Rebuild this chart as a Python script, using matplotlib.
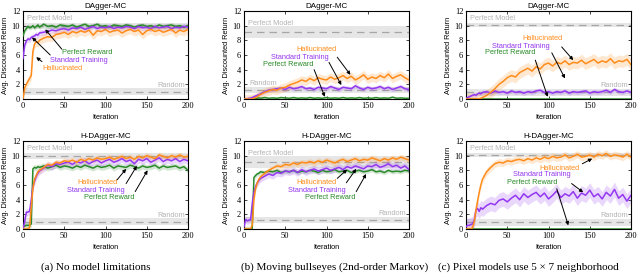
import matplotlib
matplotlib.use("Agg")
import matplotlib.pyplot as plt

# iterations sampled (finer at the start where the curves jump)
ITERS = [0, 2, 4, 6, 8, 10, 12, 14, 16, 18, 20,
         25, 30, 35, 40, 45, 50, 55, 60, 65, 70, 75, 80, 85, 90, 95, 100,
         105, 110, 115, 120, 125, 130, 135, 140, 145, 150, 155, 160, 165,
         170, 175, 180, 185, 190, 195, 200]

# ---- DAgger-MC, (a) no model limitations
dm_a_pr = [8.6, 9.3, 9.6, 9.9, 9.7, 9.8, 10.0, 9.7, 9.9, 10.1, 9.8,
           10.2, 9.9, 10.0, 9.8, 10.1, 10.0, 9.9, 10.1, 9.8, 10.0, 10.2, 9.9,
           10.0, 10.2, 9.9, 10.0, 9.8, 10.1, 10.0, 9.9, 10.1, 10.0, 9.8, 10.0,
           10.1, 9.9, 10.0, 9.8, 10.1, 9.9, 10.0, 10.1, 9.9, 10.0, 9.8, 10.0]
dm_a_st = [5.5, 7.3, 7.9, 8.2, 8.1, 8.4, 8.5, 8.6, 8.8, 8.7, 9.0,
           9.1, 9.2, 9.4, 9.3, 9.5, 9.6, 9.4, 9.7, 9.6, 9.8, 9.5, 9.7,
           9.9, 9.6, 9.8, 9.7, 9.9, 9.6, 9.8, 9.7, 9.9, 9.8, 9.6, 9.9,
           9.7, 9.8, 9.6, 9.9, 9.7, 9.8, 9.9, 9.6, 9.8, 9.7, 9.9, 9.8]
dm_a_hal = [0.0, 1.5, 2.0, 2.4, 2.8, 3.2, 6.5, 7.5, 7.8, 7.7, 8.0,
            8.3, 8.5, 8.4, 8.8, 8.9, 9.1, 8.8, 9.2, 9.0, 9.3, 9.1, 9.4,
            8.7, 9.3, 9.2, 9.5, 9.1, 9.3, 9.4, 9.0, 9.3, 9.5, 9.2, 9.4,
            8.8, 9.3, 9.5, 9.2, 9.4, 9.1, 9.3, 9.5, 9.0, 9.4, 9.2, 9.5]

# ---- DAgger-MC, (b) moving bullseyes
dm_b_pr = [0.0, 0.0, 0.0, 0.0, 0.05, 0.05, 0.1, 0.1, 0.1, 0.15, 0.1,
           0.2, 0.1, 0.15, 0.1, 0.2, 0.15, 0.1, 0.2, 0.1, 0.15, 0.1, 0.2,
           0.1, 0.15, 0.1, 0.2, 0.1, 0.15, 0.1, 0.2, 0.1, 0.15, 0.1, 0.2,
           0.1, 0.15, 0.1, 0.2, 0.1, 0.15, 0.1, 0.25, 0.1, 0.15, 0.1, 0.1]
dm_b_st = [0.0, 0.0, 0.0, 0.1, 0.1, 0.2, 0.3, 0.4, 0.5, 0.6, 0.7,
           1.0, 1.2, 1.3, 1.4, 1.5, 1.3, 1.6, 1.4, 1.5, 1.7, 1.4, 1.5,
           1.3, 1.6, 1.5, 1.4, 1.7, 1.5, 1.3, 1.6, 1.5, 1.4, 1.8, 1.5,
           1.3, 1.6, 1.4, 1.5, 1.7, 1.4, 1.6, 1.3, 1.5, 1.7, 1.4, 1.3]
dm_b_hal = [0.0, 0.0, 0.0, 0.0, 0.0, 0.05, 0.1, 0.2, 0.3, 0.5, 0.6,
            0.9, 1.1, 1.3, 1.2, 1.5, 1.6, 1.9, 2.1, 2.3, 2.6, 2.4, 2.8,
            2.5, 2.9, 2.7, 2.6, 3.0, 2.7, 2.9, 3.2, 2.8, 3.1, 2.6, 2.9,
            3.3, 2.7, 3.0, 2.8, 3.2, 2.9, 3.4, 2.8, 3.1, 3.3, 2.9, 2.6]

# ---- DAgger-MC, (c) pixel models
dm_c_pr = [0.0, 0.0, 0.0, 0.0, 0.0, 0.0, 0.0, 0.0, 0.0, 0.0, 0.0,
           0.0, 0.0, 0.0, 0.0, 0.0, 0.0, 0.0, 0.0, 0.0, 0.0, 0.0, 0.0,
           0.0, 0.0, 0.0, 0.0, 0.0, 0.0, 0.0, 0.0, 0.0, 0.0, 0.0, 0.0,
           0.0, 0.0, 0.0, 0.0, 0.0, 0.0, 0.0, 0.0, 0.0, 0.0, 0.0, 0.0]
dm_c_st = [0.1, 0.2, 0.3, 0.4, 0.5, 0.6, 0.5, 0.7, 0.8, 0.7, 0.9,
           1.0, 0.8, 1.1, 0.9, 1.0, 0.8, 1.1, 0.9, 1.0, 0.8, 1.0, 0.9,
           1.1, 1.2, 0.9, 1.0, 0.8, 1.0, 0.9, 1.1, 0.8, 1.0, 0.9, 1.0,
           1.1, 0.8, 1.0, 0.9, 1.0, 1.2, 0.9, 1.3, 1.0, 0.9, 1.1, 0.9]
dm_c_hal = [0.0, 0.0, 0.0, 0.0, 0.0, 0.0, 0.0, 0.0, 0.05, 0.1, 0.2,
            0.5, 0.9, 1.4, 2.0, 2.4, 2.9, 3.2, 3.0, 3.6, 3.9, 4.2, 3.8,
            4.4, 4.1, 4.7, 4.9, 4.5, 5.0, 4.8, 5.2, 4.7, 5.0, 4.9, 5.3,
            4.8, 5.1, 5.4, 4.9, 5.2, 5.0, 5.5, 4.9, 5.2, 5.1, 5.4, 4.7]

# ---- H-DAgger-MC, (a)
hd_a_pr = [0.3, 0.4, 0.5, 0.5, 0.5, 0.7, 8.2, 8.4, 8.3, 8.5, 8.4,
           8.6, 8.3, 8.5, 8.7, 8.4, 8.6, 8.5, 8.3, 8.6, 8.4, 8.7, 8.5,
           8.3, 8.6, 8.4, 8.5, 8.7, 8.3, 8.6, 8.5, 8.4, 8.7, 8.5, 8.3,
           8.6, 8.4, 8.5, 8.7, 8.3, 8.6, 8.4, 8.5, 8.6, 8.3, 8.5, 8.0]
hd_a_st = [0.0, 1.0, 2.3, 2.3, 2.4, 4.0, 5.8, 6.5, 7.2, 7.6, 7.9,
           8.3, 8.7, 8.5, 8.9, 8.8, 9.0, 9.1, 8.8, 9.2, 9.0, 9.3, 8.9,
           9.2, 9.4, 9.0, 9.3, 9.5, 9.1, 9.3, 9.6, 9.2, 9.4, 8.9, 9.5,
           9.3, 9.6, 9.1, 9.4, 9.7, 9.2, 9.5, 9.3, 9.6, 9.2, 9.5, 9.3]
hd_a_hal = [0.0, 0.0, 0.0, 0.0, 0.2, 3.0, 5.5, 6.8, 7.3, 7.8, 8.0,
            8.4, 8.8, 8.7, 9.1, 9.0, 9.3, 9.2, 9.4, 9.1, 9.5, 9.3, 9.6,
            9.4, 9.7, 9.5, 9.6, 9.8, 9.5, 9.7, 9.9, 9.6, 9.8, 9.5, 9.9,
            9.7, 10.0, 9.8, 9.6, 10.1, 9.9, 9.7, 10.0, 9.8, 10.1, 9.8, 9.9]

# ---- H-DAgger-MC, (b)
hd_b_pr = [0.0, 0.0, 0.0, 0.0, 0.0, 0.1, 7.0, 7.3, 7.5, 7.6, 7.8,
           7.7, 7.9, 7.8, 8.0, 7.7, 7.9, 7.8, 8.0, 7.7, 7.9, 7.8, 8.0,
           7.9, 7.7, 8.0, 7.8, 7.9, 8.1, 7.8, 7.9, 8.0, 7.7, 7.9, 8.0,
           7.8, 7.9, 8.1, 7.8, 7.9, 7.7, 8.0, 7.8, 7.9, 7.8, 8.0, 7.9]
hd_b_st = [0.3, 1.3, 1.1, 1.2, 1.3, 3.5, 5.0, 5.8, 6.3, 6.6, 6.9,
           7.2, 7.5, 7.3, 7.7, 7.6, 7.9, 7.8, 8.0, 7.7, 8.1, 7.8, 8.0,
           8.2, 7.9, 8.1, 8.3, 8.0, 8.2, 8.4, 8.1, 8.5, 8.3, 8.6, 8.4,
           8.2, 8.6, 8.5, 8.8, 8.4, 8.6, 8.9, 8.5, 8.7, 8.3, 8.6, 8.1]
hd_b_hal = [0.0, 0.0, 0.0, 0.0, 0.0, 0.5, 4.0, 5.5, 6.3, 6.8, 7.1,
            7.6, 8.0, 8.3, 8.6, 8.5, 8.8, 8.7, 9.0, 8.8, 9.1, 9.0, 9.2,
            9.0, 9.3, 9.1, 9.4, 9.2, 9.0, 9.3, 9.5, 9.2, 9.4, 9.6, 9.3,
            9.5, 9.4, 9.7, 9.5, 9.3, 9.6, 9.4, 9.7, 9.5, 9.8, 9.6, 9.4]

# ---- H-DAgger-MC, (c)
hd_c_pr = [0.0, 0.0, 0.0, 0.0, 0.0, 0.0, 0.0, 0.0, 0.0, 0.0, 0.0,
           0.0, 0.0, 0.0, 0.0, 0.0, 0.0, 0.0, 0.0, 0.0, 0.0, 0.0, 0.0,
           0.0, 0.0, 0.0, 0.0, 0.0, 0.0, 0.0, 0.0, 0.0, 0.0, 0.0, 0.0,
           0.0, 0.0, 0.0, 0.0, 0.0, 0.0, 0.0, 0.0, 0.0, 0.0, 0.0, 0.0]
hd_c_st = [0.3, 0.5, 0.5, 0.6, 0.7, 1.2, 2.6, 2.8, 2.4, 2.9, 2.7,
           3.2, 3.5, 3.3, 3.9, 4.1, 3.7, 4.2, 4.6, 4.0, 4.8, 4.3, 4.7,
           5.0, 4.4, 4.9, 4.1, 4.6, 5.2, 4.3, 4.8, 4.5, 5.1, 4.2, 4.9,
           4.6, 5.3, 4.4, 4.8, 4.1, 5.0, 4.5, 5.4, 4.2, 4.7, 3.8, 4.6]
hd_c_hal = [0.0, 0.0, 0.0, 0.0, 0.2, 1.0, 2.5, 3.8, 5.0, 6.0, 6.8,
            7.8, 8.4, 8.9, 9.1, 9.0, 9.3, 9.2, 9.4, 9.5, 9.3, 9.6, 9.4,
            9.7, 9.5, 9.8, 9.6, 9.9, 9.7, 9.8, 10.1, 9.7, 9.9, 10.2, 9.8,
            9.9, 10.1, 9.8, 10.2, 10.0, 10.3, 9.9, 10.1, 10.0, 9.8, 10.2, 9.8]

# spread (half width of shaded region) per series: [perfect reward, standard, hallucinated]
dm_spread = [[0.3, 0.4, 0.6], [0.1, 0.3, 0.6], [0.0, 0.3, 0.8]]
hd_spread = [[0.4, 0.5, 0.4], [0.3, 0.5, 0.4], [0.0, 1.0, 0.5]]

# reference levels per column
perfect_model = [10.0, 9.1, 10.1]
perfect_band = [0.4, 0.8, 0.3]
random_level = [1.0, 1.25, 0.9]
random_band = [0.45, 0.45, 0.45]

row_titles = ["DAgger-MC", "H-DAgger-MC"]
captions = ["(a) No model limitations",
            "(b) Moving bullseyes (2nd-order Markov)",
            "(c) Pixel models use 5 \u00d7 7 neighborhood"]
series_names = ["Perfect Reward", "Standard Training", "Hallucinated"]

C_PR = "#2a8a2a"
C_ST = "#9437f0"
C_HAL = "#ff8c1a"
COLORS = [C_PR, C_ST, C_HAL]

SANS = "Liberation Sans"
SERIF = "Liberation Serif"

# label layout: (text pos, arrow start, arrow end) for each series
labels_layout = {
    (0, 0): [((78, 6.3), (47, 6.8), (27, 9.5)),
             ((68, 5.2), (33, 6.0), (11, 8.4)),
             ((48, 4.2), (23, 5.1), (16, 5.7))],
    (0, 1): [((53, 4.7), (85, 4.0), (98, 0.3)),
             ((68, 5.7), (103, 5.0), (118, 1.9)),
             ((88, 6.7), (113, 5.7), (129, 3.3))],
    (0, 2): [((53, 6.3), (84, 5.3), (99, 0.3)),
             ((67, 7.2), (104, 6.3), (120, 2.8)),
             ((93, 8.3), (116, 7.1), (130, 5.3))],
    (1, 0): [((104, 4.3), (136, 5.1), (151, 8.0)),
             ((88, 5.3), (125, 6.2), (138, 8.6)),
             ((90, 6.3), (114, 6.7), (125, 8.2))],
    (1, 1): [((104, 4.3), (136, 5.1), (148, 7.5)),
             ((88, 5.3), (124, 6.3), (136, 8.2)),
             ((88, 6.3), (113, 6.9), (125, 8.1))],
    (1, 2): [((80, 6.3), (110, 5.5), (124, 0.5)),
             ((92, 7.4), (128, 6.2), (142, 5.0)),
             ((113, 8.2), (141, 8.9), (153, 9.6))],
}

panels = {
    (0, 0): [dm_a_pr, dm_a_st, dm_a_hal],
    (0, 1): [dm_b_pr, dm_b_st, dm_b_hal],
    (0, 2): [dm_c_pr, dm_c_st, dm_c_hal],
    (1, 0): [hd_a_pr, hd_a_st, hd_a_hal],
    (1, 1): [hd_b_pr, hd_b_st, hd_b_hal],
    (1, 2): [hd_c_pr, hd_c_st, hd_c_hal],
}
spreads = [dm_spread, hd_spread]

W, H = 640, 277
fig = plt.figure(figsize=(W / 100, H / 100), dpi=100)
lefts = [23, 244, 466]
bottoms = [99, 229]

for r in range(2):
    for c in range(3):
        ax = fig.add_axes([lefts[c] / W, (H - bottoms[r]) / H, 165 / W, 88 / H])

        # perfect model / random reference bands
        pm, pw = perfect_model[c], perfect_band[c]
        rl, rw = random_level[c], random_band[c]
        ax.axhspan(pm - pw, pm + pw, color="#e6e6e6", lw=0, zorder=0)
        ax.axhspan(rl - rw, rl + rw, color="#e6e6e6", lw=0, zorder=0)
        ax.axhline(pm, color="#a6a6a6", ls=(0, (6, 4)), lw=0.9, zorder=1)
        ax.axhline(rl, color="#a6a6a6", ls=(0, (6, 4)), lw=0.9, zorder=1)

        pm_y = 11.0 if c != 1 else 10.3
        ax.text(5, pm_y, "Perfect Model", color="#b4b4b4", fontsize=5.3,
                family=SANS, ha="left", va="center")
        if (r, c) == (0, 1):
            ax.text(6, 2.1, "Random", color="#b4b4b4", fontsize=5.3,
                    family=SANS, ha="left", va="center")
        else:
            ry = 2.1 if c == 1 else 1.8
            ax.text(196, ry, "Random", color="#b4b4b4", fontsize=5.3,
                    family=SANS, ha="right", va="center")

        for k, vals in enumerate(panels[(r, c)]):
            s = spreads[r][c][k]
            col = COLORS[k]
            lo = [max(v - s, 0) for v in vals]
            hi = [v + s for v in vals]
            if s > 0:
                ax.fill_between(ITERS, lo, hi, color=col, alpha=0.2, lw=0,
                                zorder=2)
            ax.plot(ITERS, vals, color=col, lw=1.1, zorder=3 + k)

        for k, (txt, start, end) in enumerate(labels_layout[(r, c)]):
            ax.text(txt[0], txt[1], series_names[k], color=COLORS[k],
                    fontsize=5.3, family=SANS, ha="center", va="center",
                    zorder=10)
            ax.annotate("", xy=end, xytext=start, zorder=10,
                        arrowprops=dict(arrowstyle="-|>", color="black",
                                        lw=0.7, mutation_scale=5,
                                        shrinkA=0, shrinkB=0))

        ax.set_xlim(0, 200)
        ax.set_ylim(0, 12)
        ax.set_xticks([0, 50, 100, 150, 200])
        ax.set_yticks([0, 2, 4, 6, 8, 10, 12])
        ax.tick_params(direction="in", top=True, right=True, length=2.5,
                       width=0.5, labelsize=6, pad=2)
        for lab in ax.get_xticklabels() + ax.get_yticklabels():
            lab.set_family(SERIF)
        for sp in ax.spines.values():
            sp.set_linewidth(0.8)
        ax.set_title(row_titles[r], fontsize=5.8, family=SANS, pad=2)
        ax.set_xlabel("Iteration", fontsize=5.3, family=SANS, labelpad=3)
        ax.set_ylabel("Avg. Discounted Return", fontsize=5.3, family=SANS,
                      labelpad=2)

cap_x = [96, 335, 528]
for c in range(3):
    fig.text(cap_x[c] / W, 10 / H, captions[c], fontsize=8, family=SERIF,
             ha="center", va="center")

fig.savefig("out.png", dpi=100)
